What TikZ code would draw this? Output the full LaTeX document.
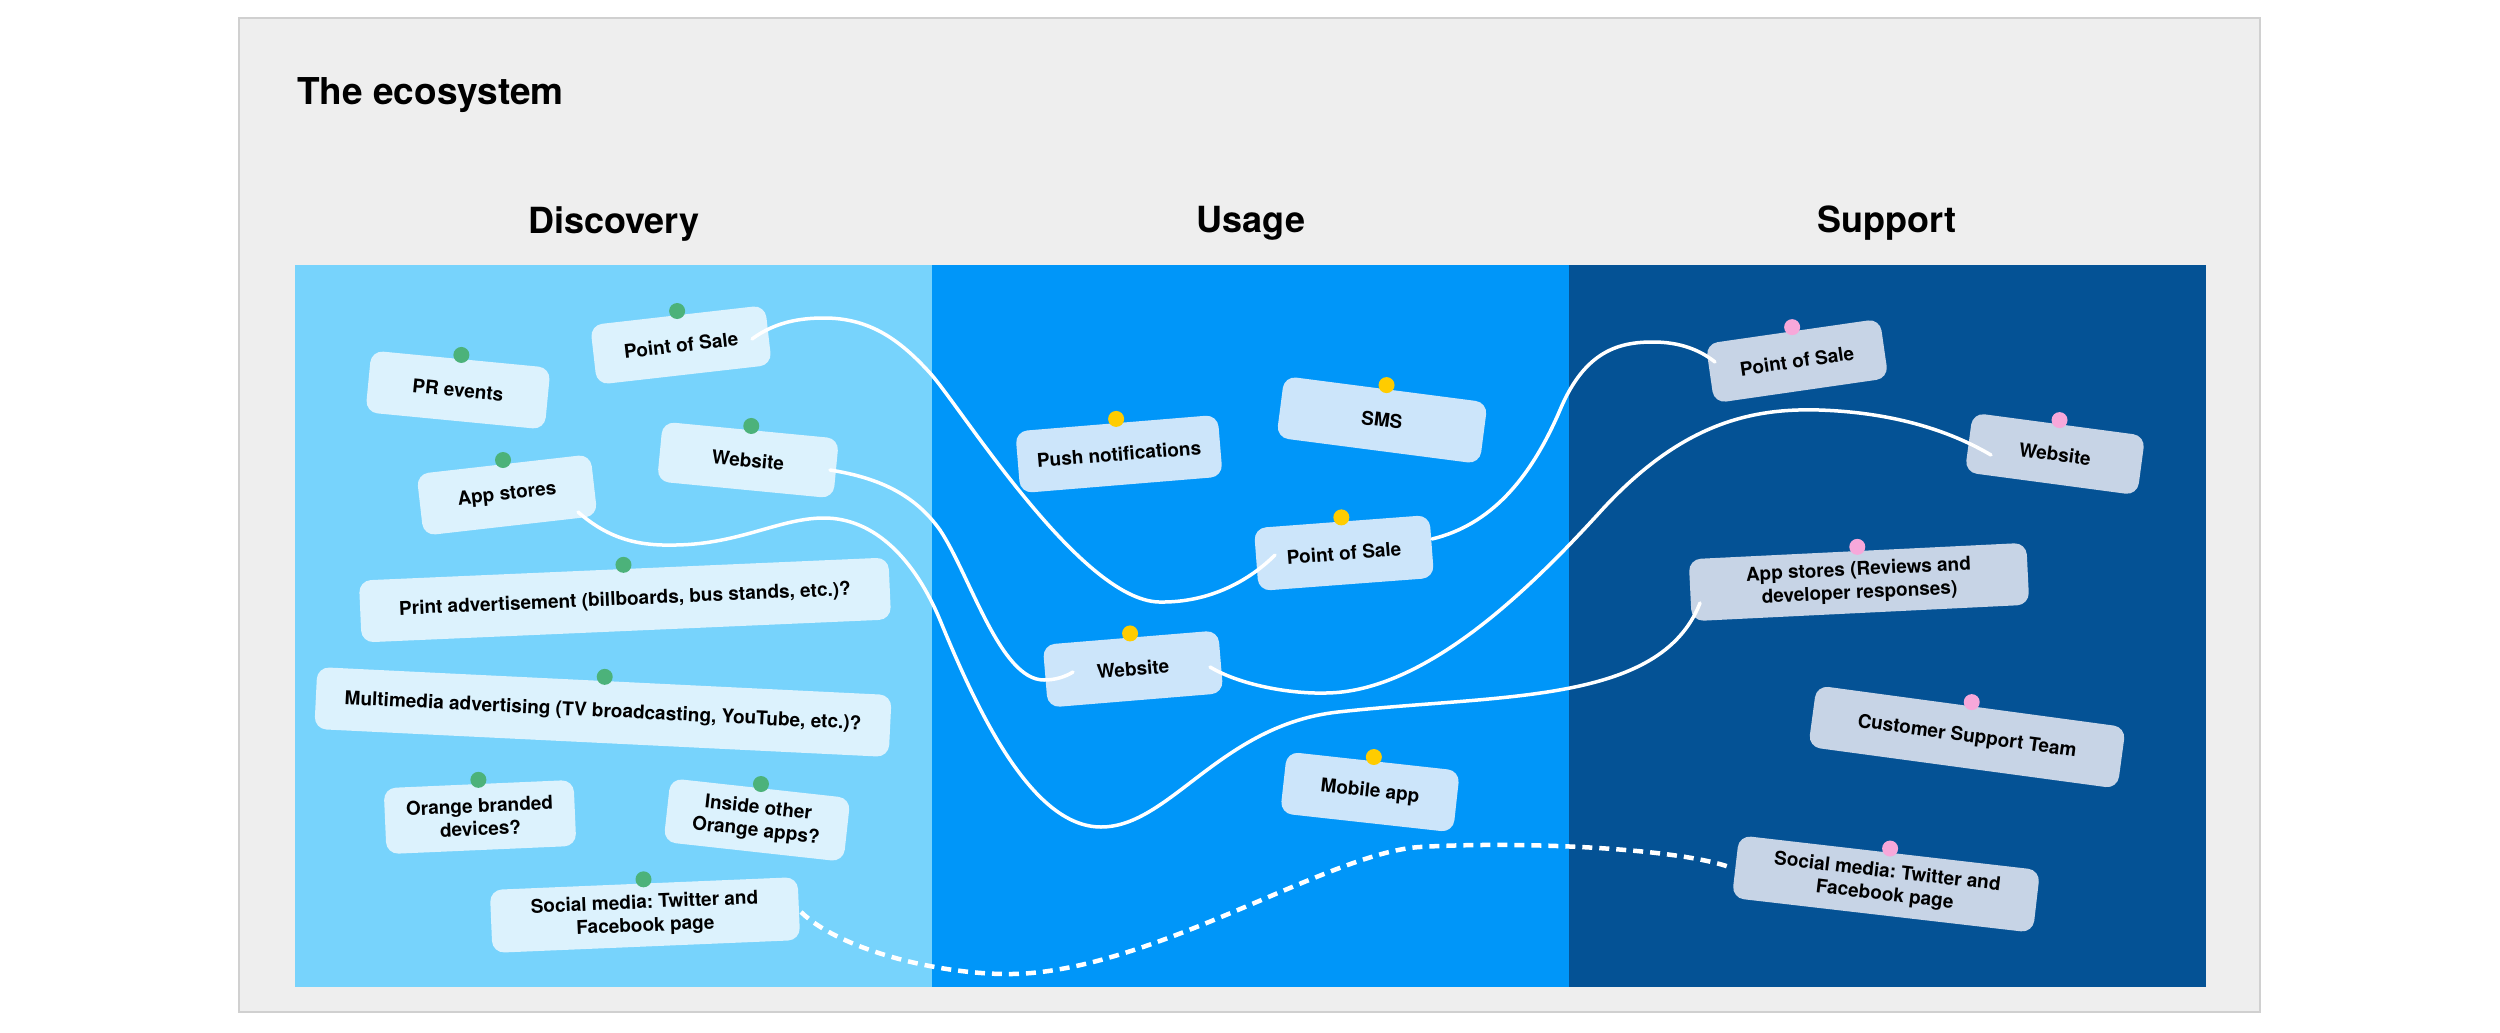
\documentclass[tikz,border=0pt]{standalone}
\usepackage{fontspec}
\setmainfont{TeX Gyre Heros}
\usetikzlibrary{calc}
\frenchspacing
\definecolor{framebg}{HTML}{EEEEEE}
\definecolor{frameline}{HTML}{D0D0D0}
\definecolor{discbg}{HTML}{77D3FC}
\definecolor{usagebg}{HTML}{0096F9}
\definecolor{suppbg}{HTML}{045295}
\definecolor{dfill}{HTML}{DCF2FD}
\definecolor{ufill}{HTML}{CCE5FA}
\definecolor{sfill}{HTML}{C7D4E6}
\definecolor{dgreen}{HTML}{4CB27A}
\definecolor{uyellow}{HTML}{FFCC00}
\definecolor{spink}{HTML}{F7A8DA}
\newcommand\carddot[2]{\fill[#1] ($(#2.north)!-4pt!(#2.south)$) circle (8pt);}
\begin{document}
\frenchspacing
\begin{tikzpicture}[x=1pt,y=-1pt,
  card/.style={rounded corners=12pt, inner sep=0pt, align=center, minimum height=62pt,
    font=\fontsize{19}{23}\selectfont\bfseries\frenchspacing, text=black},
  dcard/.style={card, fill=dfill},
  ucard/.style={card, fill=ufill},
  scard/.style={card, fill=sfill},
  conn/.style={draw=white, line width=3.5pt, line cap=round},
  dashconn/.style={draw=white, line width=4.5pt, dash pattern=on 10pt off 7pt},
  heading/.style={font=\fontsize{36}{40}\selectfont\bfseries, anchor=base, inner sep=0pt},
]
\useasboundingbox (0,0) rectangle (2500,1033);
\fill[white] (0,0) rectangle (2500,1033);
\draw[frameline, fill=framebg, line width=1.5pt] (239,18) rectangle (2260,1012);

\node[anchor=base west, inner sep=0pt, font=\fontsize{37}{40}\selectfont\bfseries] (title) at (297,104) {The ecosystem};
\node[heading] (hDisc) at (614,233) {Discovery};
\node[heading] (hUse) at (1251,232) {Usage};
\node[heading] (hSup) at (1887,232) {Support};

\fill[discbg] (295,265) rectangle (932,987);
\fill[usagebg] (932,265) rectangle (1569,987);
\fill[suppbg] (1569,265) rectangle (2206,987);

% Discovery
\node[dcard, rotate=-5.5, minimum width=180pt] (dPR) at (458,390) {PR events};
\node[dcard, rotate=6.5, minimum width=176pt, minimum height=60pt] (dPOS) at (681,345) {Point of Sale};
\node[dcard, rotate=-5.5, minimum width=177pt, minimum height=60pt] (dWeb) at (748,460) {Website};
\node[dcard, rotate=6.5, minimum width=175pt] (dApp) at (507,495) {App stores};
\node[dcard, rotate=2.5, minimum width=530pt] (dPrint) at (625,600) {Print advertisement (billboards, bus stands, etc.)?};
\node[dcard, rotate=-2.8, minimum width=575pt] (dMulti) at (603,712) {Multimedia advertising (TV broadcasting, YouTube, etc.)?};
\node[dcard, rotate=2.5, minimum width=190pt, minimum height=66pt] (dOrange) at (480,817) {Orange branded\\devices?};
\node[dcard, rotate=-6.3, minimum width=181pt, minimum height=64pt] (dInside) at (757,820) {Inside other\\Orange apps?};
\node[dcard, rotate=2.4, minimum width=308pt, minimum height=63pt] (dSocial) at (645,915) {Social media: Twitter and\\Facebook page};

% Usage
\node[ucard, rotate=4.7, minimum width=203pt] (uPush) at (1119,454) {Push notifications};
\node[ucard, rotate=-7.4, minimum width=205pt] (uSMS) at (1382,420) {SMS};
\node[ucard, rotate=4.3, minimum width=176pt, minimum height=63pt] (uPOS) at (1344,553) {Point of Sale};
\node[ucard, rotate=4.7, minimum width=176pt, minimum height=63pt] (uWeb) at (1133,669) {Website};
\node[ucard, rotate=-6.3, minimum width=174pt] (uMobile) at (1370,792) {Mobile app};

% Support
\node[scard, rotate=8.2, minimum width=176pt, minimum height=60pt] (sPOS) at (1797,361) {Point of Sale};
\node[scard, rotate=-7.6, minimum width=174pt, minimum height=60pt] (sWeb) at (2055,454) {Website};
\node[scard, rotate=2.8, minimum width=338pt] (sApp) at (1859,582) {App stores (Reviews and\\developer responses)};
\node[scard, rotate=-7.7, minimum width=312pt] (sCST) at (1967,737) {Customer Support Team};
\node[scard, rotate=-6.6, minimum width=303pt, minimum height=63pt] (sSocial) at (1886,884) {Social media: Twitter and\\Facebook page};

% pins
\carddot{dgreen}{dPR}
\carddot{dgreen}{dPOS}
\carddot{dgreen}{dWeb}
\carddot{dgreen}{dApp}
\carddot{dgreen}{dPrint}
\carddot{dgreen}{dMulti}
\carddot{dgreen}{dOrange}
\carddot{dgreen}{dInside}
\carddot{dgreen}{dSocial}
\carddot{uyellow}{uPush}
\carddot{uyellow}{uSMS}
\carddot{uyellow}{uPOS}
\carddot{uyellow}{uWeb}
\carddot{uyellow}{uMobile}
\carddot{spink}{sPOS}
\carddot{spink}{sWeb}
\carddot{spink}{sApp}
\carddot{spink}{sCST}
\carddot{spink}{sSocial}

% connectors
\draw[conn] ($(dPOS)+(71,-6)$) .. controls (775,322) and (800,318) .. (824,318)
  .. controls (870,318) and (900,340) .. (930,373)
  .. controls (960,406) and (1080,600) .. (1159,602)
  .. controls (1210,603) and (1250,580) .. ($(uPOS)+(-69,2)$);
\draw[conn] ($(dWeb)+(82,10)$) .. controls (880,478) and (915,495) .. (940,530)
  .. controls (970,575) and (1000,680) .. (1044,680)
  .. controls (1055,680) and (1065,677) .. ($(uWeb)+(-60,3)$);
\draw[conn] ($(dApp)+(71,17)$) .. controls (610,540) and (640,546) .. (676,545)
  .. controls (740,544) and (780,518) .. (824,518)
  .. controls (875,518) and (915,560) .. (940,620)
  .. controls (975,705) and (1030,827) .. (1101,827)
  .. controls (1170,827) and (1220,725) .. (1338,712)
  .. controls (1500,694) and (1660,705) .. ($(sApp)+(-159,21)$);
\draw[conn] ($(uWeb)+(77,-2)$) .. controls (1240,685) and (1290,694) .. (1326,693)
  .. controls (1420,692) and (1520,600) .. (1600,512)
  .. controls (1680,424) and (1750,408) .. (1819,410)
  .. controls (1880,412) and (1940,425) .. ($(sWeb)+(-64,1)$);
\draw[conn] ($(uPOS)+(88,-14)$) .. controls (1490,525) and (1530,480) .. (1560,410)
  .. controls (1585,350) and (1620,342) .. (1653,342)
  .. controls (1680,342) and (1700,350) .. ($(sPOS)+(-82,1)$);
\draw[dashconn] ($(dSocial)+(156,-3)$) .. controls (840,950) and (940,975) .. (1012,974)
  .. controls (1150,972) and (1330,852) .. (1420,847)
  .. controls (1520,841) and (1680,848) .. ($(sSocial)+(-154,-16)$);
\end{tikzpicture}
\end{document}
